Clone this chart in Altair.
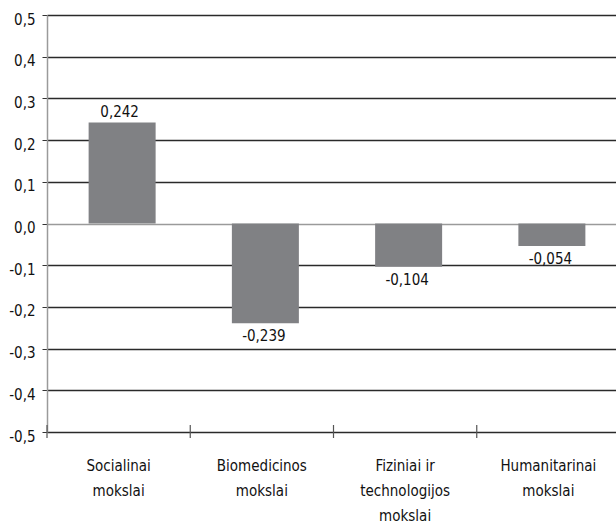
import altair as alt
import pandas as pd

# Field of science categories ("|" marks a line break in the axis label)
categories = [
    "Socialinai|mokslai",
    "Biomedicinos|mokslai",
    "Fiziniai ir|technologijos|mokslai",
    "Humanitarinai|mokslai",
]
values = [0.242, -0.239, -0.104, -0.054]
y_ticks = [-0.5, -0.4, -0.3, -0.2, -0.1, 0.0, 0.1, 0.2, 0.3, 0.4, 0.5]

FONT = "Liberation Sans Narrow, DejaVu Sans Condensed, sans-serif"
BAR_COLOR = "#808184"
TEXT_COLOR = "#111111"
FS = 15

df = pd.DataFrame({
    "cat": categories,
    "value": values,
    "label": [f"{v:.3f}".replace(".", ",") for v in values],
})

x_enc = alt.X(
    "cat:N",
    sort=categories,
    scale=alt.Scale(range=[0, 573], paddingInner=0, paddingOuter=0),
    axis=alt.Axis(
        title=None,
        labelAngle=0,
        ticks=False,
        domain=False,
        grid=False,
        labelExpr="split(datum.label, '|')",
        labelFont=FONT,
        labelFontSize=FS,
        labelColor=TEXT_COLOR,
        labelLineHeight=25,
        labelPadding=33,
        labelBaseline="middle",
    ),
)

y_scale = alt.Scale(domain=[-0.5, 0.5], nice=False, zero=False)

bars = alt.Chart(df).mark_bar(width=67, xOffset=3.5, color=BAR_COLOR).encode(
    x=x_enc,
    y=alt.Y(
        "value:Q",
        scale=y_scale,
        axis=alt.Axis(
            title=None,
            values=y_ticks,
            labelExpr="(datum.value < 0 ? '-' : '') + replace(format(abs(datum.value), '.1f'), '.', ',')",
            labelFont=FONT,
            labelFontSize=FS,
            labelColor=TEXT_COLOR,
            labelPadding=7,
            labelOffset=4,
            tickSize=5,
            tickColor="#333333",
            domainColor="#9a9a9a",
            domainWidth=1.5,
            grid=True,
            gridColor={"condition": {"test": "datum.value === 0", "value": "#9a9a9a"}, "value": "#2a2a2a"},
            gridWidth=1.3,
            gridOpacity=1,
        ),
    ),
    y2=alt.datum(0),
)

pos_labels = alt.Chart(df).transform_filter("datum.value >= 0").mark_text(
    baseline="bottom", dy=-3, dx=1, font=FONT, fontSize=FS, color=TEXT_COLOR
).encode(
    x=alt.X("cat:N", sort=categories),
    y=alt.Y("value:Q", scale=y_scale),
    text="label:N",
)

neg_labels = alt.Chart(df).transform_filter("datum.value < 0").mark_text(
    baseline="top", dy=6, dx=2, font=FONT, fontSize=FS, color=TEXT_COLOR
).encode(
    x=alt.X("cat:N", sort=categories),
    y=alt.Y("value:Q", scale=y_scale),
    text="label:N",
)

# category boundary ticks crossing the bottom axis line
ticks = alt.Chart(df).mark_rule(color="#555555", strokeWidth=1.2, yOffset=-7, y2Offset=6).encode(
    x=alt.X("cat:N", sort=categories, bandPosition=0),
    y=alt.Y(datum=-0.5, scale=y_scale),
    y2=alt.datum(-0.5),
)

chart = alt.layer(bars, pos_labels, neg_labels, ticks).properties(
    width=569,
    height=417,
    autosize=alt.AutoSizeParams(type="none"),
    padding={"left": 47, "top": 15, "right": 0, "bottom": 91},
    background="white",
).configure_view(stroke=None)

chart.save("out.html", embed_options={"renderer": "svg", "actions": False})
